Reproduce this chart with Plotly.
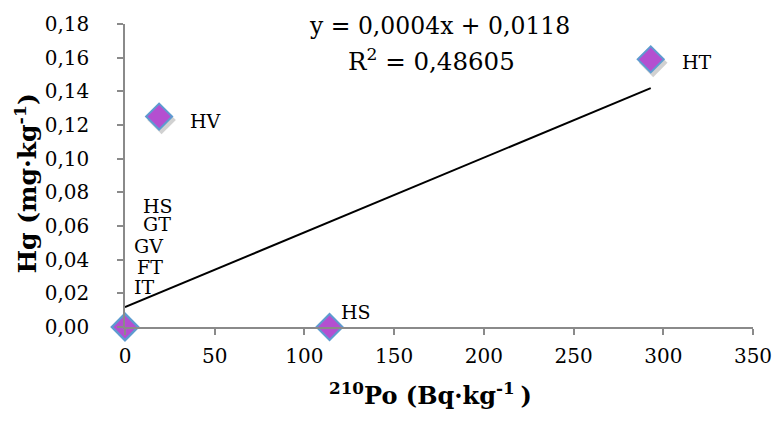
import plotly.graph_objects as go

# ---- data ----
names = ["IT", "FT", "GV", "GT", "HS", "HV", "HS", "HT"]
po210 = [0, 0, 0, 0, 0, 19, 114, 293]
hg = [0.0, 0.0, 0.0, 0.0, 0.0, 0.125, 0.0, 0.159]
trend_x = [0, 293]
trend_slope = 0.000444
trend_intercept = 0.0118
x_ticks = [0, 50, 100, 150, 200, 250, 300, 350]
y_ticks = [0.0, 0.02, 0.04, 0.06, 0.08, 0.10, 0.12, 0.14, 0.16, 0.18]
equation_text = "y = 0,0004x + 0,0118"
r2_text = "R<sup>2</sup> = 0,48605"

# label offsets in px (style)
label_shift = [(19, 40), (25, 60), (23, 81), (32, 103), (33, 121), (46, -4), (26, 15), (46, -3)]

FONT = "DejaVu Serif"
X_RANGE = [0, 350]
Y_RANGE = [0, 0.18]
L, R, T, B = 124.5, 28, 23, 94
plot_w = 784 - L - R
plot_h = 421 - T - B
dx = 2.5 * (X_RANGE[1] - X_RANGE[0]) / plot_w
dy = 3.5 * (Y_RANGE[1] - Y_RANGE[0]) / plot_h


def px_x(p):
    return (p - L) / plot_w


def px_y(p):
    return (421 - B - p) / plot_h


fig = go.Figure()

# shadow layer (bottom axes, shifted range)
fig.add_trace(go.Scatter(
    x=po210, y=hg, mode="markers", xaxis="x", yaxis="y",
    marker=dict(symbol="diamond", size=22, color="rgba(0,0,0,0.18)", line=dict(width=0)),
    cliponaxis=False, hoverinfo="skip", showlegend=False))

trend_y = [trend_slope * v + trend_intercept for v in trend_x]
fig.add_trace(go.Scatter(
    x=trend_x, y=trend_y, mode="lines", xaxis="x2", yaxis="y2",
    line=dict(color="black", width=2), showlegend=False, cliponaxis=False))

fig.add_trace(go.Scatter(
    x=po210, y=hg, mode="markers", xaxis="x2", yaxis="y2",
    marker=dict(symbol="diamond", size=20, color="#B44FD0",
                line=dict(color="#5E9BD0", width=2)),
    cliponaxis=False, showlegend=False))

annotations = []
for n, xv, yv, (sx, sy) in zip(names, po210, hg, label_shift):
    annotations.append(dict(x=xv, y=yv, xref="x2", yref="y2", text=n, showarrow=False,
                            xshift=sx, yshift=sy,
                            font=dict(family=FONT, size=19, color="black")))
annotations.append(dict(x=px_x(441), y=px_y(25), xref="paper", yref="paper", text=equation_text,
                        xanchor="center", yanchor="middle",
                        showarrow=False, font=dict(family=FONT, size=23.5, color="black")))
annotations.append(dict(x=px_x(433), y=px_y(59), xref="paper", yref="paper", text=r2_text,
                        xanchor="center", yanchor="middle",
                        showarrow=False, font=dict(family=FONT, size=24.5, color="black")))
# axis titles
annotations.append(dict(x=px_x(432), y=px_y(394), xref="paper", yref="paper",
                        text="<b><sup>210</sup>Po (Bq·kg<sup>-1 </sup>)</b>",
                        xanchor="center", yanchor="middle", showarrow=False,
                        font=dict(family=FONT, size=24, color="black")))
annotations.append(dict(x=px_x(25), y=px_y(183), xref="paper", yref="paper",
                        text="<b>Hg (mg·kg<sup>-1</sup>)</b>", textangle=-90,
                        xanchor="center", yanchor="middle", showarrow=False,
                        font=dict(family=FONT, size=25, color="black")))

axis_common = dict(showgrid=False, zeroline=False, showline=True, linecolor="#8A8A8A",
                   linewidth=1.5, ticks="outside", tickcolor="#8A8A8A", ticklen=6, tickwidth=1.5,
                   tickfont=dict(family=FONT, size=20, color="black"))

fig.update_layout(
    width=784, height=421,
    margin=dict(l=L, r=R, t=T, b=B),
    paper_bgcolor="white", plot_bgcolor="white",
    separators=", ",
    xaxis=dict(range=[X_RANGE[0] - dx, X_RANGE[1] - dx], visible=False),
    yaxis=dict(range=[Y_RANGE[0] + dy, Y_RANGE[1] + dy], visible=False),
    xaxis2=dict(range=X_RANGE, tickvals=x_ticks, ticktext=[str(v) for v in x_ticks],
                overlaying="x", side="bottom", anchor="y2", ticklabelstandoff=4,
                **axis_common),
    yaxis2=dict(range=Y_RANGE, tickvals=y_ticks, tickformat=".2f",
                overlaying="y", side="left", anchor="x2", ticklabelstandoff=24,
                **axis_common),
    annotations=annotations,
)

fig.write_html("out.html")
